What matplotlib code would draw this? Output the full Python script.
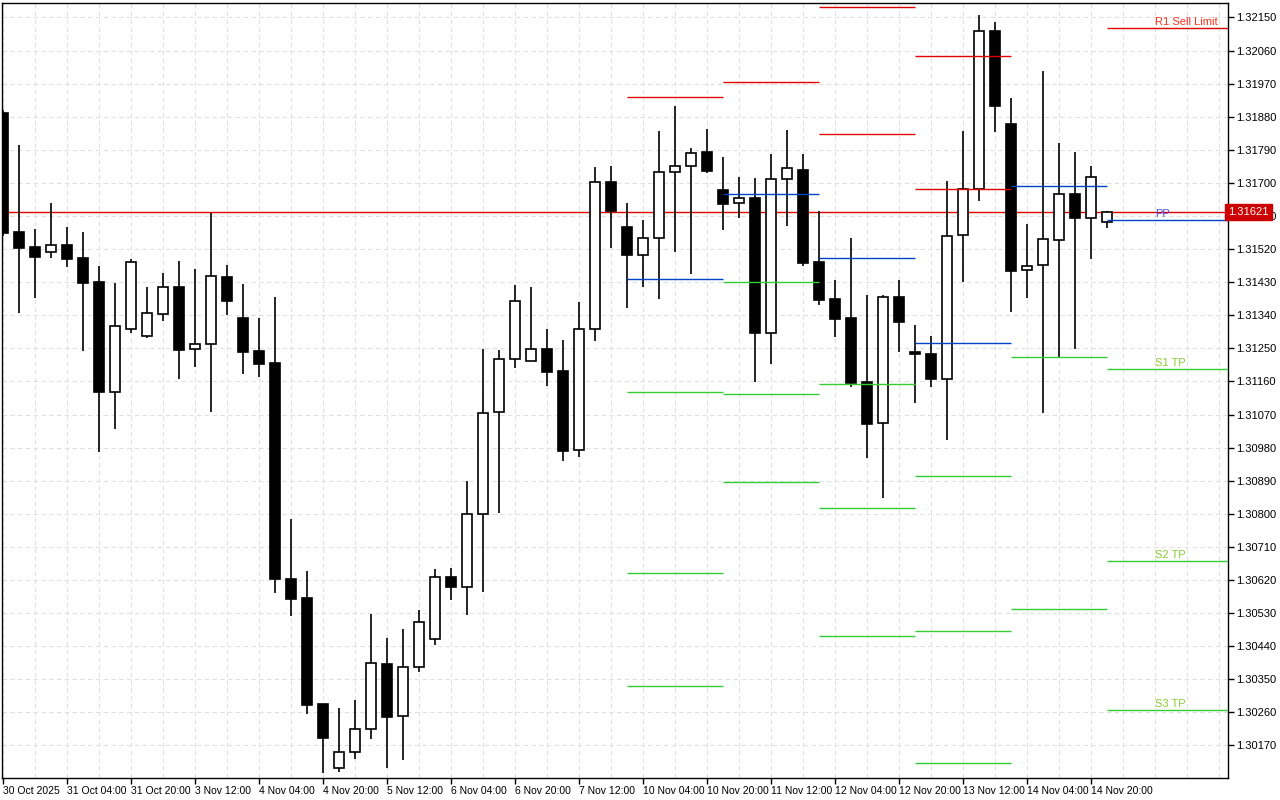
import matplotlib
matplotlib.use("Agg")
import matplotlib.pyplot as plt
import numpy as np

plt.rcParams['font.family'] = ['Liberation Sans', 'DejaVu Sans']

opens = [1.31891,1.31567,1.31526,1.31513,1.31532,1.31496,1.31431,1.31132,1.31303,1.31284,
         1.31344,1.31417,1.31249,1.31262,1.31445,1.31333,1.31243,1.31211,1.30623,1.30571,
         1.30283,1.30109,1.30153,1.30215,1.30392,1.30250,1.30384,1.30460,1.30629,1.30601,
         1.30800,1.31077,1.31222,1.31216,1.31249,1.31189,1.30974,1.31303,1.31703,1.31581,
         1.31504,1.31551,1.31730,1.31746,1.31785,1.31681,1.31646,1.31659,1.31292,1.31711,
         1.31736,1.31485,1.31385,1.31333,1.31159,1.31047,1.31390,1.31241,1.31235,1.31167,
         1.31559,1.31684,1.32114,1.31861,1.31464,1.31477,1.31545,1.31670,1.31605,1.31594]
highs = [1.31899,1.31804,1.31575,1.31646,1.31581,1.31567,1.31474,1.31428,1.31494,1.31417,
         1.31455,1.31488,1.31466,1.31619,1.31477,1.31426,1.31333,1.31390,1.30786,1.30645,
         1.30283,1.30272,1.30294,1.30528,1.30463,1.30487,1.30539,1.30650,1.30653,1.30890,
         1.31249,1.31246,1.31423,1.31417,1.31303,1.31273,1.31377,1.31744,1.31746,1.31646,
         1.31600,1.31842,1.31910,1.31795,1.31847,1.31771,1.31717,1.31714,1.31779,1.31844,
         1.31779,1.31624,1.31436,1.31551,1.31396,1.31396,1.31436,1.31314,1.31284,1.31706,
         1.31842,1.32157,1.32138,1.31931,1.31589,1.32005,1.31809,1.31785,1.31746,1.31624]
lows = [1.31556,1.31347,1.31387,1.31496,1.31472,1.31243,1.30969,1.31031,1.31292,1.31279,
        1.31325,1.31167,1.31200,1.31077,1.31341,1.31181,1.31173,1.30585,1.30522,1.30256,
        1.30095,1.30098,1.30134,1.30188,1.30109,1.30131,1.30370,1.30444,1.30566,1.30525,
        1.30588,1.30803,1.31197,1.31216,1.31148,1.30944,1.30955,1.31270,1.31523,1.31360,
        1.31417,1.31385,1.31513,1.31453,1.31727,1.31572,1.31605,1.31159,1.31208,1.31583,
        1.31474,1.31368,1.31281,1.31145,1.30952,1.30843,1.31241,1.31102,1.31145,1.31001,
        1.31431,1.31651,1.31839,1.31349,1.31387,1.31075,1.31224,1.31249,1.31494,1.31578]
closes = [1.31564,1.31523,1.31499,1.31532,1.31494,1.31428,1.31132,1.31311,1.31485,1.31347,
          1.31417,1.31246,1.31262,1.31447,1.31379,1.31241,1.31208,1.30623,1.30569,1.30280,
          1.30191,1.30153,1.30215,1.30395,1.30248,1.30384,1.30506,1.30629,1.30601,1.30800,
          1.31075,1.31222,1.31379,1.31249,1.31186,1.30971,1.31303,1.31703,1.31624,1.31504,
          1.31551,1.31730,1.31746,1.31782,1.31733,1.31643,1.31659,1.31292,1.31711,1.31741,
          1.31483,1.31382,1.31330,1.31156,1.31045,1.31390,1.31322,1.31235,1.31167,1.31556,
          1.31684,1.32114,1.31910,1.31461,1.31474,1.31548,1.31670,1.31605,1.31717,1.31621]

x_labels = ["30 Oct 2025","31 Oct 04:00","31 Oct 20:00","3 Nov 12:00","4 Nov 04:00","4 Nov 20:00",
            "5 Nov 12:00","6 Nov 04:00","6 Nov 20:00","7 Nov 12:00","10 Nov 04:00","10 Nov 20:00",
            "11 Nov 12:00","12 Nov 04:00","12 Nov 20:00","13 Nov 12:00","14 Nov 04:00","14 Nov 20:00"]
y_ticks = [1.32150 - 0.0009 * k for k in range(23)]

# daily pivot levels per day segment (start candle, end candle)
day_start = [39, 45, 51, 57, 63, 69]
day_end = [45, 51, 57, 63, 69, 76.6]
lvl_R2 = [None, None, 1.32179, 1.32046, None, None]
lvl_R1 = [1.31934, 1.31975, 1.31834, 1.31684, None, 1.32122]
lvl_PP = [1.31439, 1.31670, 1.31496, 1.31265, 1.31692, 1.31600]
lvl_S1 = [1.31132, 1.31431, 1.31154, 1.30903, 1.31227, 1.31194]
lvl_S2 = [1.30639, 1.31126, 1.30816, 1.30482, 1.30542, 1.30672]
lvl_S3 = [1.30332, 1.30887, 1.30468, 1.30123, None, 1.30267]
current_price = 1.31621

fig = plt.figure(figsize=(12.8, 8.0), dpi=100)
ax = fig.add_axes([2/1280, 22/800, 1226/1280, 775/800])
ppx = 1 / 0.0000272
ax.set_ylim(1.32150 - (778 - 17.5) / ppx, 1.32150 + 14.5 / ppx)
ax.set_xlim(-0.0625, 76.56)

for v in y_ticks:
    ax.axhline(v, color="#e0e0e0", lw=0.8, ls=(0, (4, 3)), zorder=0)
for k in range(0, 78, 2):
    ax.axvline(k, color="#e0e0e0", lw=0.8, ls=(0, (4, 3)), zorder=0)

w = 0.62
for i in range(len(opens)):
    o, h, l, c = opens[i], highs[i], lows[i], closes[i]
    ax.vlines(i, l, h, color="black", lw=1.2, zorder=2)
    bull = c >= o
    bottom = min(o, c)
    height = max(abs(c - o), 0.000012)
    ax.bar(i, height, w, bottom=bottom, color="white" if bull else "black",
           edgecolor="black", lw=1.2, zorder=3)

ax.axhline(current_price, color="#e00000", lw=1, zorder=1)

def seg(vals, color):
    for s, e, v in zip(day_start, day_end, vals):
        if v is not None:
            ax.hlines(v, s, e, color=color, lw=1, zorder=4)

seg(lvl_R2, "#e00000"); seg(lvl_R1, "#e00000"); seg(lvl_PP, "#0044cc")
seg(lvl_S1, "#33cc33"); seg(lvl_S2, "#33cc33"); seg(lvl_S3, "#33cc33")

tx = 72.0
fs = 7.5
ax.text(tx, lvl_R1[5] + 0.00003, "R1 Sell Limit", color="#ff3020", fontsize=8, va="bottom", ha="left")
ax.text(tx, lvl_PP[5] + 0.00003, "PP", color="#5050e0", fontsize=8, va="bottom", ha="left")
ax.text(tx, lvl_S1[5] + 0.00003, "S1 TP", color="#88cc33", fontsize=8, va="bottom", ha="left")
ax.text(tx, lvl_S2[5] + 0.00003, "S2 TP", color="#88cc33", fontsize=8, va="bottom", ha="left")
ax.text(tx, lvl_S3[5] + 0.00003, "S3 TP", color="#88cc33", fontsize=8, va="bottom", ha="left")

ax.yaxis.tick_right()
ax.set_yticks(y_ticks)
ax.set_yticklabels([f"{v:.5f}" for v in y_ticks], fontsize=8)
ax.set_xticks(list(range(0, 70, 4)))
ax.set_xticklabels(x_labels, fontsize=fs, ha="left")
ax.tick_params(length=4, width=1, pad=2)
for sp in ax.spines.values():
    sp.set_linewidth(1)
ax.text(1.0, current_price, f"{current_price:.5f}", transform=ax.get_yaxis_transform(),
        fontsize=8, color="white", va="center", ha="left", zorder=10,
        bbox=dict(boxstyle="square,pad=0.3", fc="#cc0000", ec="#cc0000"))

fig.savefig("out.png", dpi=100)
